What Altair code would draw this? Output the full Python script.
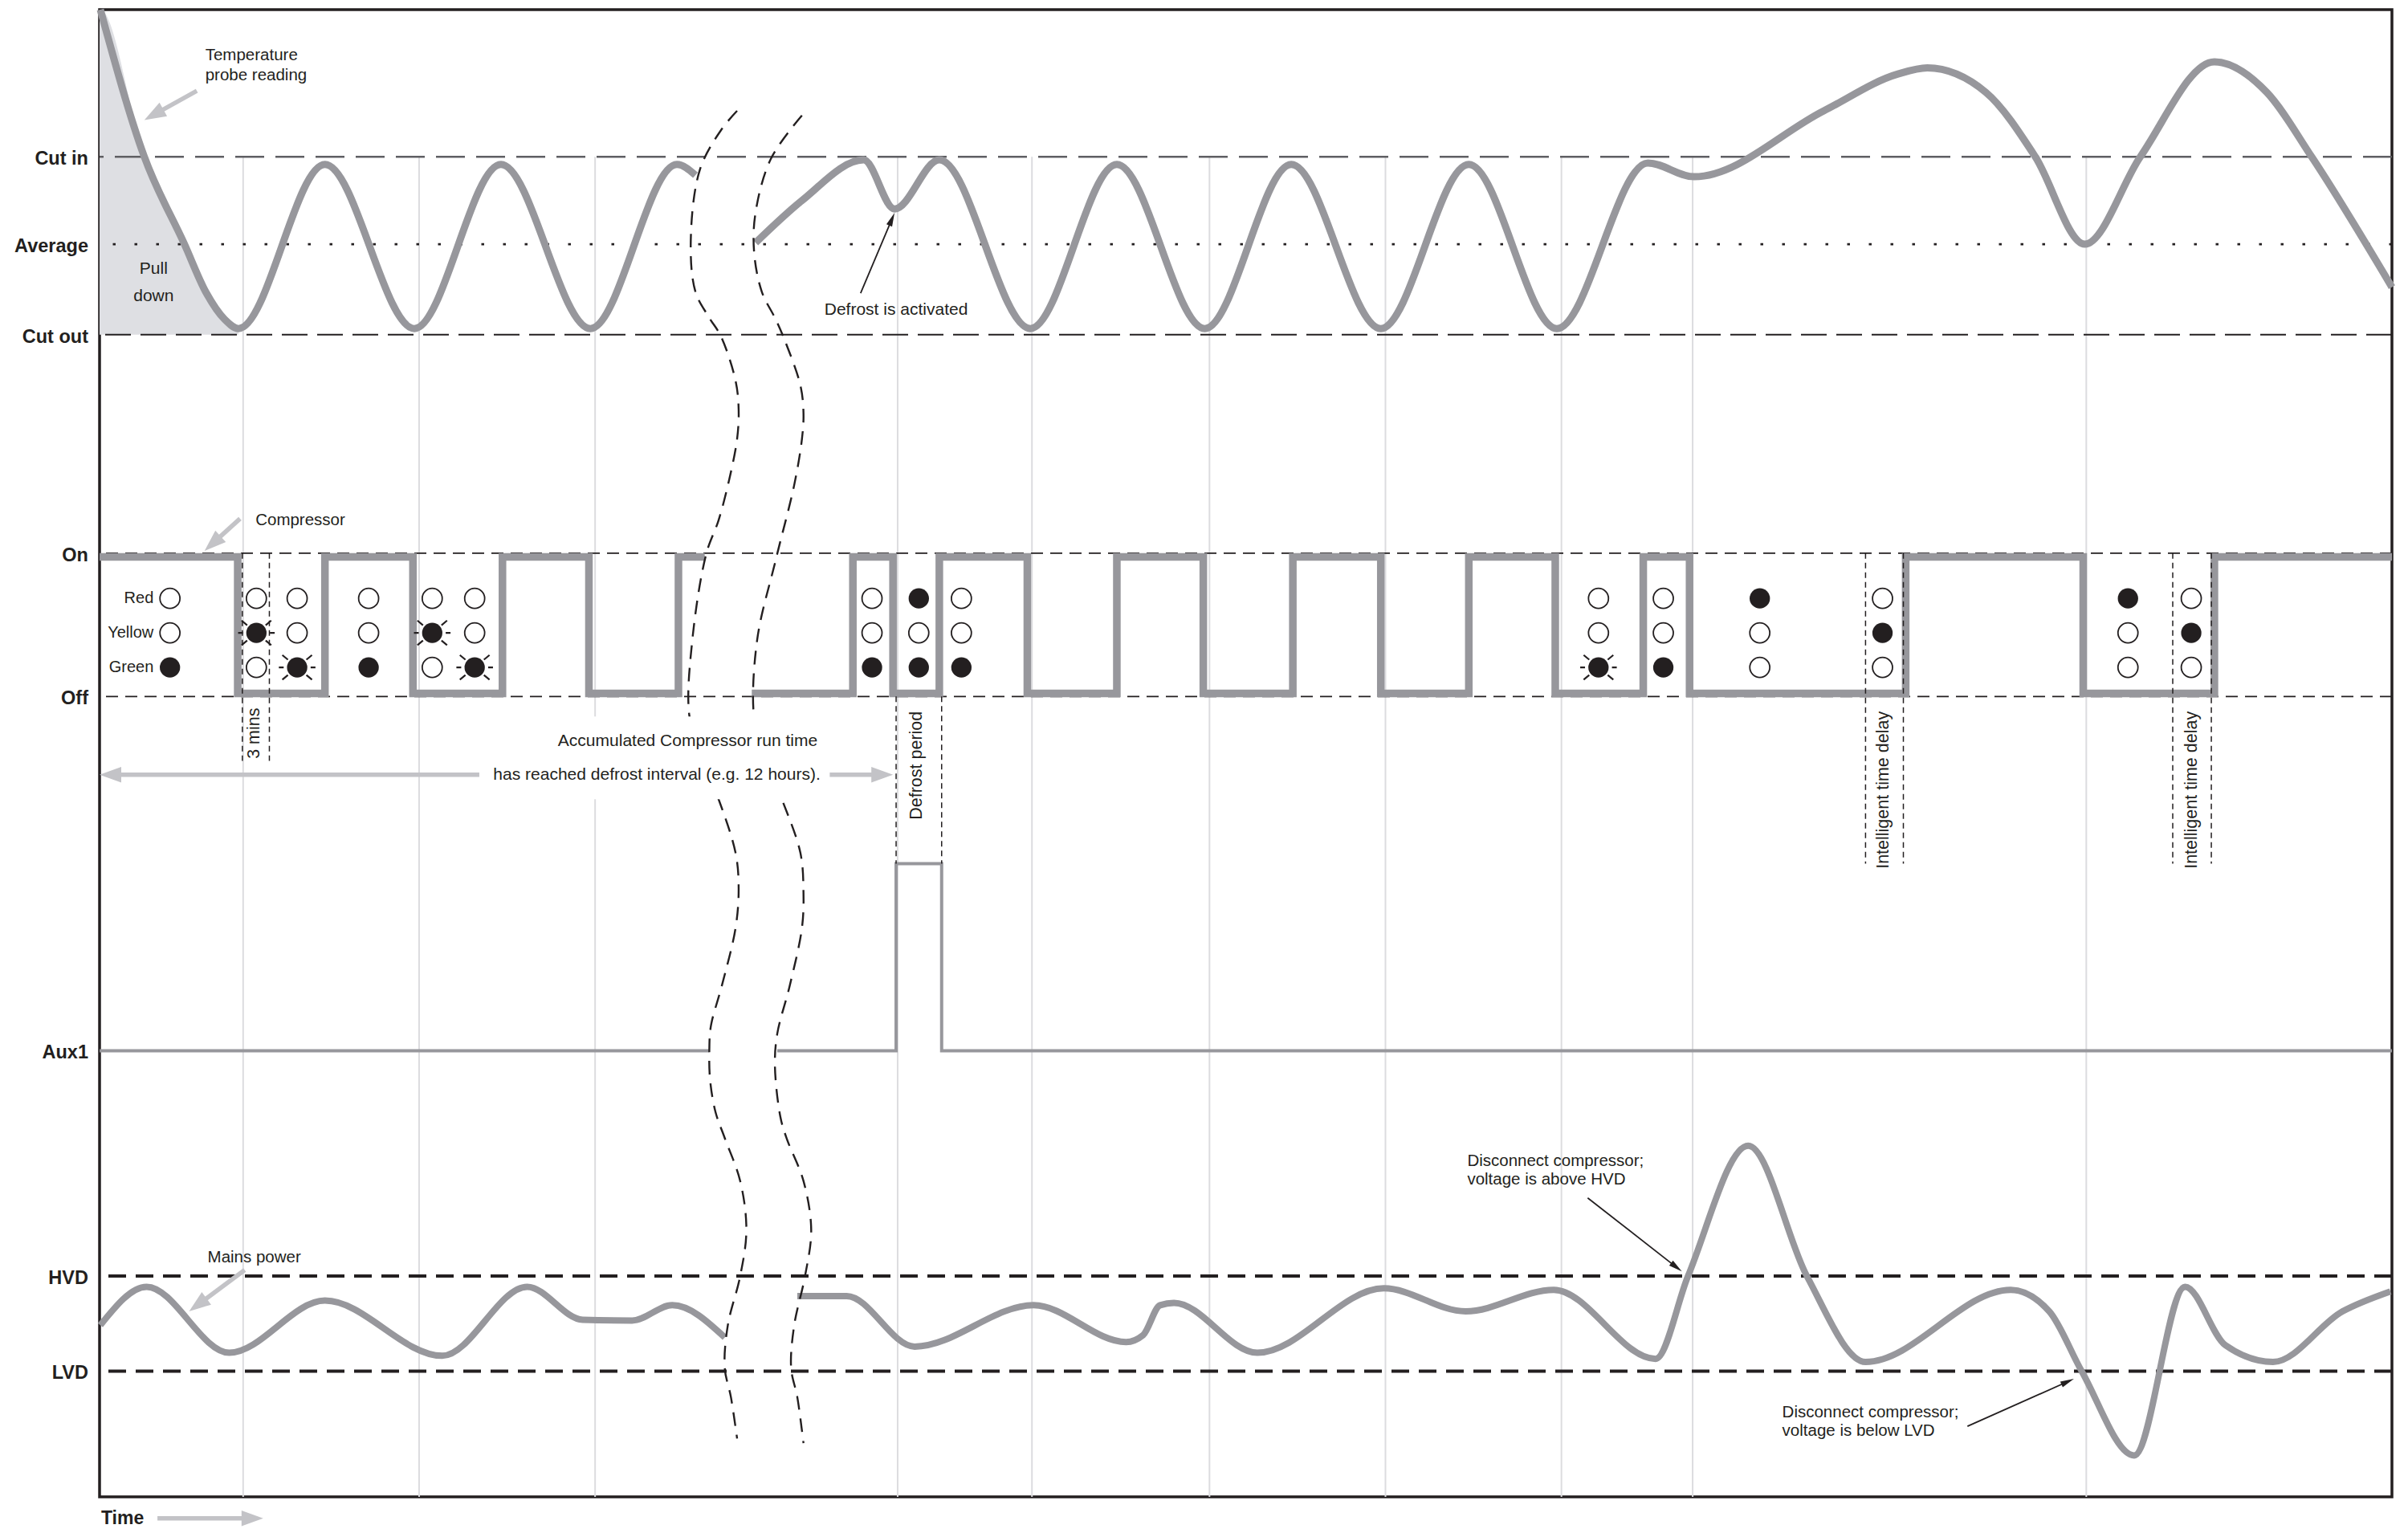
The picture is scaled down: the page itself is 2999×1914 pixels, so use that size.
import math
import altair as alt
import pandas as pd

# ---------------- geometry of the plot area (pixels) ----------------
W, H = 2855, 1852
T_MAX, V_MAX = 1485, 970
PX_T, PX_V = W / T_MAX, H / V_MAX

INK = "#231f20"
LINE = "#97979c"
LIGHT = "#c3c3c7"
SHADE = "#dedfe3"
GRID = "#dcdcdf"
FONT = "Liberation Sans, Arial, Helvetica, sans-serif"

# ---------------- y-axis levels ----------------
LEVEL_NAMES = ["Cut in", "Average", "Cut out", "On", "Off", "Aux1", "HVD", "LVD"]
LEVEL_VALUES = [874, 817, 758, 615.5, 522, 291, 144, 82]
CUT_IN, AVERAGE, CUT_OUT, ON, OFF, AUX1, HVD, LVD = LEVEL_VALUES
AUX_HIGH = 413
COMP_HIGH, COMP_LOW = 613, 524
LEVEL_LABEL_T = -7.3

# vertical time gridlines
GRID_T = [93, 207, 321, 517, 604, 719, 833, 947, 1032, 1287]

# ---------------- temperature probe reading ----------------
TEMP_A_T = [0.5, 29, 55, 69, 81, 90, 146, 204, 260, 318, 374, 386]
TEMP_A_V = [970, 874, 817, 785.5, 768, 762, 869, 762, 869, 762, 869, 862]
TEMP_B_T = [425, 455, 495, 515, 544, 603, 659, 716, 772, 830, 887, 944, 1003, 1033,
            1117, 1165, 1184, 1222, 1254, 1286, 1322, 1370, 1404, 1433, 1485]
TEMP_B_V = [818, 845.5, 872, 840, 872, 762, 869, 762, 869, 762, 869, 762, 870, 861,
            904, 928, 932, 916, 874, 817, 874, 936, 916, 874, 789]
PULLDOWN_END = 90

# ---------------- compressor (switching times) ----------------
COMP_A_START, COMP_A_END = 0, 392
COMP_A_EDGES = [89.5, 146, 203, 261, 317, 375]          # starts On
COMP_B_START, COMP_B_END = 422.5, 1485
COMP_B_EDGES = [488, 514, 544, 601, 659, 715, 773, 830, 887, 943,
                1000, 1030, 1170, 1285, 1370]           # starts Off

# ---------------- Aux1 ----------------
AUX_A_START, AUX_A_END = 0, 395
AUX_B_START, AUX_B_END = 439, 1485
AUX_PULSE = [516, 545.5]

# ---------------- mains power ----------------
MAINS_A_T = [0.5, 30.5, 84, 146, 222, 277, 313, 345, 371, 405]
MAINS_A_V = [112, 137, 94, 128, 92, 137, 115.5, 115, 125, 104]
MAINS_B_T = [452, 484, 528, 605, 665, 676, 687, 696, 750, 832, 885, 942, 1008, 1029,
             1068, 1106, 1144, 1238, 1263, 1284, 1318, 1351, 1377, 1408, 1453, 1484]
MAINS_B_V = [131, 131, 98, 125, 101, 105.5, 125, 126.5, 94, 136, 121, 135, 90, 144,
             229, 144, 88, 135, 121, 82, 27, 137, 99, 88, 121, 134]

# ---------------- time-break curves ----------------
BREAK_L_T = [413, 403, 389, 383, 386, 395, 402.5, 412, 414, 413, 408, 401, 393, 384, 382,
             390, 401, 412, 414, 412, 403, 396, 395, 395.5, 399, 405, 415, 419, 415, 407,
             405, 409, 413]
BREAK_L_V = [904, 892, 866, 820, 786, 769, 757, 728, 709, 690, 664, 637, 615, 559, 510,
             482, 455, 420, 397, 371, 333, 307, 291, 272, 251, 234, 206, 174, 144, 112,
             84, 65, 38]
BREAK_R_T = [455, 435, 425, 424, 429, 438, 444, 454, 456, 455, 450, 438, 426, 424, 431,
             442, 454, 456, 455, 447, 439, 437.5, 441, 445, 456, 461, 457, 450, 448, 452, 456]
BREAK_R_V = [901, 873, 838, 812, 786, 768, 754, 725, 707, 690, 660, 611, 559, 508, 482,
             455, 420, 394, 371, 333, 302, 281, 248, 234, 206, 174, 144, 112, 84, 65, 35]

# ---------------- dashed interval boxes ----------------
BOX_LEFT = [92.5, 516, 1144, 1343]
BOX_RIGHT = [110, 545.5, 1168.5, 1368]
BOX_TOP = [ON, OFF, ON, ON]
BOX_BOTTOM = [480, AUX_HIGH, 413, 413]
ROT_TEXT = ["3 mins", "Defrost period", "Intelligent time delay", "Intelligent time delay"]
ROT_T = [100.5, 529.5, 1155.5, 1355.5]
ROT_V = [498, 477, 461, 461]

# ---------------- status LEDs ----------------
LED_ROWS = ["Red", "Yellow", "Green"]
LED_ROW_V = [586, 563.5, 541]
LED_T = [45.6, 101.6, 128, 174.3, 215.5, 243, 500.4, 530.7, 558.3,
         971, 1013, 1075.5, 1155, 1314, 1355]
LED_RED = ["o", "o", "o", "o", "o", "o", "o", "f", "o", "o", "o", "f", "o", "f", "o"]
LED_YELLOW = ["o", "b", "o", "o", "b", "o", "o", "o", "o", "o", "o", "o", "f", "o", "f"]
LED_GREEN = ["f", "o", "b", "f", "o", "b", "f", "f", "f", "b", "f", "o", "o", "o", "o"]
LED_LABEL_T = 35

# ---------------- annotations ----------------
NOTE_TEXT = ["Temperature", "probe reading", "Compressor", "Mains power",
             "Disconnect compressor;", "voltage is above HVD",
             "Disconnect compressor;", "voltage is below LVD"]
NOTE_T = [68.5, 68.5, 101, 70, 886, 886, 1090, 1090]
NOTE_V = [940, 927, 637, 156, 219, 207, 55, 43]
CENTER_TEXT = ["Pull", "down", "Defrost is activated",
               "Accumulated Compressor run time",
               "has reached defrost interval (e.g. 12 hours)."]
CENTER_T = [35, 35, 516, 381, 361]
CENTER_V = [801, 783, 774, 493, 471]
TIME_LABEL = ("Time", 1, -14)
MASK = (253, 475, 455, 509)   # white box behind the accumulated-run-time text

GRAY_FROM_T = [63, 91, 94, 37.5, 246, 473]
GRAY_FROM_V = [917, 638, 148, -14, 471, 471]
GRAY_TIP_T = [29, 68, 58, 106, 0, 514]
GRAY_TIP_V = [898, 617, 121, -14, 471, 471]
BLACK_FROM_T = [493, 964, 1210]
BLACK_FROM_V = [785, 195, 46]
BLACK_TIP_T = [515, 1025, 1279]
BLACK_TIP_V = [837.5, 147, 77]

# =====================================================================
XS = alt.Scale(domain=[0, T_MAX], nice=False, zero=False)
YS = alt.Scale(domain=[0, V_MAX], nice=False, zero=False)


def X(f="t"):
    return alt.X(f"{f}:Q", scale=XS, axis=None)


def Y(f="v"):
    return alt.Y(f"{f}:Q", scale=YS, axis=None)


def series(segs):
    rows = []
    for name, (ts, vs) in segs.items():
        for i, (t, v) in enumerate(zip(ts, vs)):
            rows.append({"t": t, "v": v, "seg": name, "i": i})
    return pd.DataFrame(rows)


def square_wave(start, end, edges, high, hi, lo):
    ts, vs = [start], [hi if high else lo]
    for e in edges:
        ts.append(e); vs.append(hi if high else lo)
        high = not high
        ts.append(e); vs.append(hi if high else lo)
    ts.append(end); vs.append(hi if high else lo)
    return ts, vs


def arrows(ft, fv, tt, tv, length):
    shafts, heads = [], []
    for k, (a, b, c, d) in enumerate(zip(ft, fv, tt, tv)):
        dx = (c - a) * PX_T
        dy = -(d - b) * PX_V
        n = math.hypot(dx, dy)
        ux, uy = dx / n, dy / n
        ang = math.degrees(math.atan2(ux, -uy)) % 360
        ct = c - ux * length / 2 / PX_T
        cv = d + uy * length / 2 / PX_V
        shafts += [{"t": a, "v": b, "seg": k, "i": 0}, {"t": ct, "v": cv, "seg": k, "i": 1}]
        heads.append({"t": ct, "v": cv, "ang": ang})
    return pd.DataFrame(shafts), pd.DataFrame(heads)


layers = []

# gridlines
grid_df = pd.DataFrame({"t": GRID_T, "v0": [0] * len(GRID_T), "v1": [CUT_IN] * len(GRID_T)})
layers.append(alt.Chart(grid_df).mark_rule(color=GRID, strokeWidth=2)
              .encode(x=X(), y=Y("v0"), y2="v1:Q"))

# pull-down shading
pd_t = [t for t in TEMP_A_T if t <= PULLDOWN_END]
pd_v = TEMP_A_V[:len(pd_t)]
pull_df = pd.DataFrame({"t": [0] + pd_t, "v": [V_MAX] + pd_v,
                        "base": [CUT_OUT] * (len(pd_t) + 1)})
layers.append(alt.Chart(pull_df)
              .mark_area(color=SHADE, interpolate="monotone", opacity=1)
              .encode(x=X(), y=alt.Y("v:Q", scale=YS, axis=None, stack=None), y2="base:Q"))

# level lines
LEVEL_STYLE = {
    "Cut in": ("#5f5f63", 2.6, [36, 14]),
    "Average": (INK, 2.6, [3.5, 23.5]),
    "Cut out": (INK, 2.2, [32, 12]),
    "On": (INK, 1.8, [15, 9]),
    "Off": (INK, 1.8, [15, 9]),
    "HVD": (INK, 4, [22, 12]),
    "LVD": (INK, 4, [22, 12]),
}
for name, val in zip(LEVEL_NAMES, LEVEL_VALUES):
    if name not in LEVEL_STYLE:
        continue
    c, w, d = LEVEL_STYLE[name]
    layers.append(alt.Chart(pd.DataFrame({"v": [val]}))
                  .mark_rule(color=c, strokeWidth=w, strokeDash=d)
                  .encode(y=Y()))

# compressor
comp_df = series({
    "A": square_wave(COMP_A_START, COMP_A_END, COMP_A_EDGES, True, COMP_HIGH, COMP_LOW),
    "B": square_wave(COMP_B_START, COMP_B_END, COMP_B_EDGES, False, COMP_HIGH, COMP_LOW),
})
layers.append(alt.Chart(comp_df).mark_line(color=LINE, strokeWidth=9.5, strokeJoin="miter",
                                           strokeCap="butt")
              .encode(x=X(), y=Y(), detail="seg:N", order="i:Q"))

# aux1
aux_df = series({
    "A": ([AUX_A_START, AUX_A_END], [AUX1, AUX1]),
    "B": square_wave(AUX_B_START, AUX_B_END, AUX_PULSE, False, AUX_HIGH, AUX1),
})
layers.append(alt.Chart(aux_df).mark_line(color=LINE, strokeWidth=4, strokeJoin="miter")
              .encode(x=X(), y=Y(), detail="seg:N", order="i:Q"))

# temperature
temp_df = series({"A": (TEMP_A_T, TEMP_A_V), "B": (TEMP_B_T, TEMP_B_V)})
layers.append(alt.Chart(temp_df).mark_line(color=LINE, strokeWidth=9, interpolate="monotone")
              .encode(x=X(), y=Y(), detail="seg:N", order="i:Q"))

# mains
mains_df = series({"A": (MAINS_A_T, MAINS_A_V), "B": (MAINS_B_T, MAINS_B_V)})
layers.append(alt.Chart(mains_df).mark_line(color=LINE, strokeWidth=8, interpolate="monotone")
              .encode(x=X(), y=Y(), detail="seg:N", order="i:Q"))

# break curves
break_df = series({"L": (BREAK_L_T, BREAK_L_V), "R": (BREAK_R_T, BREAK_R_V)})
layers.append(alt.Chart(break_df).mark_line(color=INK, strokeWidth=2.4, strokeDash=[17, 11],
                                            interpolate="catmull-rom")
              .encode(x=X(), y=Y(), detail="seg:N", order="i:Q"))

# white mask behind text
mask_df = pd.DataFrame({"t": [MASK[0]], "t2": [MASK[1]], "v": [MASK[2]], "v2": [MASK[3]]})
layers.append(alt.Chart(mask_df).mark_rect(color="white", opacity=1)
              .encode(x=X(), x2="t2:Q", y=Y(), y2="v2:Q"))

# dashed boxes
box_rows = []
for l, r, tp, bt in zip(BOX_LEFT, BOX_RIGHT, BOX_TOP, BOX_BOTTOM):
    box_rows += [{"t": l, "v": tp, "v2": bt}, {"t": r, "v": tp, "v2": bt}]
layers.append(alt.Chart(pd.DataFrame(box_rows))
              .mark_rule(color=INK, strokeWidth=1.5, strokeDash=[7, 5])
              .encode(x=X(), y=Y(), y2="v2:Q"))

# LEDs
led_rows = []
for states, v in zip([LED_RED, LED_YELLOW, LED_GREEN], LED_ROW_V):
    for t, s in zip(LED_T, states):
        led_rows.append({"t": t, "v": v, "state": s})
led_df = pd.DataFrame(led_rows)
RAYS = ("M-0.95,0L-0.7,0M0.7,0L0.95,0"
        "M-0.48,-0.4L-0.77,-0.64M0.48,-0.4L0.77,-0.64"
        "M-0.48,0.4L-0.77,0.64M0.48,0.4L0.77,0.64")
layers.append(alt.Chart(led_df).transform_filter("datum.state == 'o'")
              .mark_point(shape="circle", filled=True, fill="white", stroke=INK,
                          strokeWidth=1.8, size=620, opacity=1)
              .encode(x=X(), y=Y()))
layers.append(alt.Chart(led_df).transform_filter("datum.state != 'o'")
              .mark_point(shape="circle", filled=True, color=INK, size=640, opacity=1)
              .encode(x=X(), y=Y()))
layers.append(alt.Chart(led_df).transform_filter("datum.state == 'b'")
              .mark_point(shape=RAYS, filled=False, color=INK, strokeWidth=2.2,
                          size=2300, opacity=1)
              .encode(x=X(), y=Y()))

# arrows
g_sh, g_hd = arrows(GRAY_FROM_T, GRAY_FROM_V, GRAY_TIP_T, GRAY_TIP_V, 27)
b_sh, b_hd = arrows(BLACK_FROM_T, BLACK_FROM_V, BLACK_TIP_T, BLACK_TIP_V, 17)
layers.append(alt.Chart(g_sh).mark_line(color=LIGHT, strokeWidth=5.5)
              .encode(x=X(), y=Y(), detail="seg:N", order="i:Q"))
layers.append(alt.Chart(g_hd).mark_point(shape="M0,-1L0.72,1L-0.72,1Z", filled=True,
                                         color=LIGHT, size=27 * 27, opacity=1)
              .encode(x=X(), y=Y(), angle=alt.Angle("ang:Q", scale=None)))
layers.append(alt.Chart(b_sh).mark_line(color=INK, strokeWidth=1.8)
              .encode(x=X(), y=Y(), detail="seg:N", order="i:Q"))
layers.append(alt.Chart(b_hd).mark_point(shape="M0,-1L0.45,1L-0.45,1Z", filled=True,
                                         color=INK, size=17 * 17, opacity=1)
              .encode(x=X(), y=Y(), angle=alt.Angle("ang:Q", scale=None)))

# level labels (left of the frame)
lev_df = pd.DataFrame({"t": [LEVEL_LABEL_T] * len(LEVEL_NAMES), "v": LEVEL_VALUES,
                       "label": LEVEL_NAMES})
layers.append(alt.Chart(lev_df).mark_text(align="right", baseline="middle", font=FONT,
                                          fontSize=23.5, fontWeight="bold", color=INK, dy=3)
              .encode(x=X(), y=Y(), text="label:N"))

# texts
note_df = pd.DataFrame({"t": NOTE_T, "v": NOTE_V, "label": NOTE_TEXT})
layers.append(alt.Chart(note_df).mark_text(align="left", baseline="middle", font=FONT,
                                           fontSize=20.5, color=INK)
              .encode(x=X(), y=Y(), text="label:N"))
center_df = pd.DataFrame({"t": CENTER_T, "v": CENTER_V, "label": CENTER_TEXT})
layers.append(alt.Chart(center_df).mark_text(align="center", baseline="middle", font=FONT,
                                             fontSize=21, color=INK)
              .encode(x=X(), y=Y(), text="label:N"))
rot_df = pd.DataFrame({"t": ROT_T, "v": ROT_V, "label": ROT_TEXT})
layers.append(alt.Chart(rot_df).mark_text(align="center", baseline="middle", font=FONT,
                                          fontSize=21.5, color=INK, angle=270)
              .encode(x=X(), y=Y(), text="label:N"))
ledlab_df = pd.DataFrame({"t": [LED_LABEL_T] * 3, "v": LED_ROW_V, "label": LED_ROWS})
layers.append(alt.Chart(ledlab_df).mark_text(align="right", baseline="middle", font=FONT,
                                             fontSize=20, color=INK)
              .encode(x=X(), y=Y(), text="label:N"))
time_df = pd.DataFrame({"t": [TIME_LABEL[1]], "v": [TIME_LABEL[2]], "label": [TIME_LABEL[0]]})
layers.append(alt.Chart(time_df).mark_text(align="left", baseline="middle", font=FONT,
                                           fontSize=23, fontWeight="bold", color=INK)
              .encode(x=X(), y=Y(), text="label:N"))

chart = (alt.layer(*layers)
         .properties(width=W, height=H,
                     padding={"left": 116, "top": 4, "right": 12, "bottom": 38},
                     autosize=alt.AutoSizeParams(type="none"))
         .configure_view(stroke=INK, strokeWidth=3.5))

chart.save("out.html", embed_options={"renderer": "svg", "actions": False})
